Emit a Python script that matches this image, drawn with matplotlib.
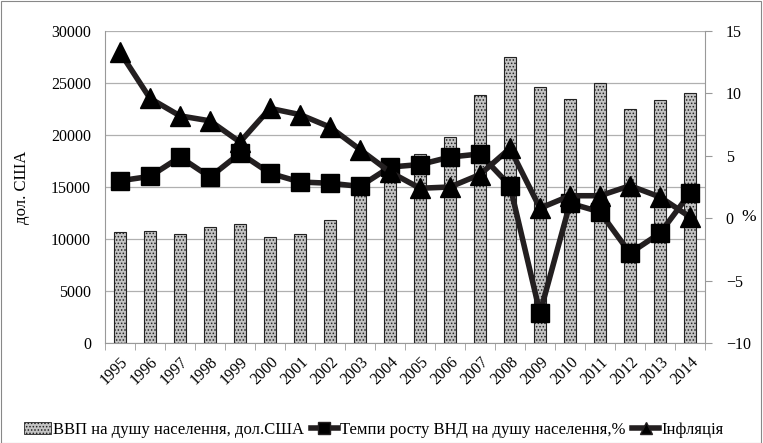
import matplotlib
matplotlib.use("Agg")
import matplotlib.pyplot as plt
from matplotlib.lines import Line2D
from matplotlib.patches import Patch, Rectangle
import numpy as np

years = [str(y) for y in range(1995, 2015)]
gdp = [10700, 10800, 10450, 11190, 11440, 10220, 10450, 11800, 15000, 16600,
       18140, 19780, 23850, 27530, 24650, 23420, 25030, 22470, 23370, 24010]
gni_growth = [3.0, 3.35, 4.9, 3.3, 5.2, 3.6, 2.9, 2.8, 2.55, 4.1,
              4.3, 4.9, 5.15, 2.6, -7.6, 1.2, 0.5, -2.8, -1.2, 2.0]
inflation = [13.3, 9.6, 8.2, 7.8, 6.1, 8.8, 8.3, 7.3, 5.5, 3.7,
             2.4, 2.5, 3.5, 5.6, 0.8, 1.8, 1.8, 2.6, 1.7, 0.1]

lab_gdp = "ВВП на душу населення, дол.США"
lab_gni = "Темпи росту ВНД на душу населення,%"
lab_inf = "Інфляція"

plt.rcParams['font.family'] = ['Liberation Serif', 'DejaVu Serif']
plt.rcParams['hatch.color'] = '#444444'
plt.rcParams['hatch.linewidth'] = 0.7

fig = plt.figure(figsize=(7.63, 4.43), dpi=100)
fig.patches.append(Rectangle((0.001, 0.001), 0.997, 0.997, transform=fig.transFigure,
                             fill=False, edgecolor='#888888', linewidth=0.8))
ax = fig.add_axes([105/763, 1-343/443, 600/763, 312/443])
x = np.arange(len(years))
ax.bar(x, gdp, width=0.42, facecolor='#c4c4c4', edgecolor='#222222', linewidth=0.8,
       hatch='.....', zorder=2)
ax.set_ylim(0, 30000)
ax.set_xlim(-0.5, len(years) - 0.5)
ax.set_yticks(range(0, 30001, 5000))
ax.grid(axis='y', color='#b0b0b0', linewidth=0.9, zorder=0)
ax.set_axisbelow(True)
ax.set_xticks(x)
ax.set_xticklabels(years, rotation=45, ha='right', rotation_mode='anchor')
ax.set_xticks(np.arange(-0.5, len(years)), minor=True)
ax.tick_params(axis='x', which='major', length=0, pad=8)
ax.tick_params(axis='x', which='minor', length=5, color='#999999')
ax.tick_params(axis='y', length=0, pad=10)
ax.tick_params(labelsize=11.5)
ax.spines['top'].set_visible(False)
ax.spines['left'].set_color('#999999')
ax.spines['bottom'].set_color('#999999')
ax.spines['right'].set_visible(False)
ax.set_ylabel("дол. США", fontsize=12)
ax.yaxis.set_label_coords(-(105 - 30) / 600, 0.5)

ax2 = ax.twinx()
ax2.plot(x, gni_growth, color='#231f20', linewidth=4, marker='s', markersize=13,
         markerfacecolor='black', markeredgecolor='black', zorder=3)
ax2.plot(x, inflation, color='#231f20', linewidth=4, marker='^', markersize=14,
         markerfacecolor='black', markeredgecolor='black', zorder=4)
ax2.set_ylim(-10, 15)
ax2.set_yticks(range(-10, 16, 5))
ax2.tick_params(axis='y', length=5, color='#999999', labelsize=11.5, pad=10)
ax2.spines['right'].set_color('#999999')
for s in ['top', 'left', 'bottom']:
    ax2.spines[s].set_visible(False)
ax2.set_ylabel("%", rotation=0, fontsize=12.5, va='center', ha='center')
ax2.yaxis.set_label_coords((749 - 105) / 600, (343 - 217) / 312)

handles = [Patch(facecolor='#c4c4c4', edgecolor='#222222', hatch='.....', linewidth=0.6),
           Line2D([], [], color='#231f20', linewidth=4, marker='s', markersize=8, markerfacecolor='black'),
           Line2D([], [], color='#231f20', linewidth=4, marker='^', markersize=8, markerfacecolor='black')]
fig.legend(handles, [lab_gdp, lab_gni, lab_inf], loc='center', bbox_to_anchor=(0.49, 1-430/443),
           ncol=3, frameon=False, fontsize=12, handlelength=1.6, handletextpad=0.15,
           columnspacing=0.4)

fig.savefig("out.png", dpi=100)
